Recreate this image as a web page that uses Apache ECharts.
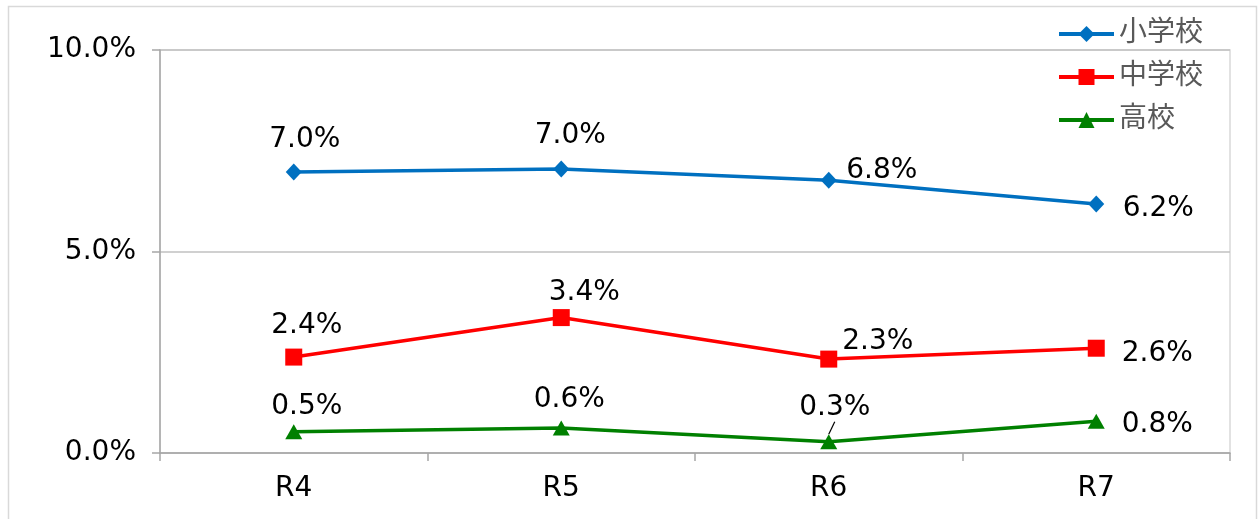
<!DOCTYPE html>
<html>
<head>
<meta charset="utf-8">
<script src="https://cdn.jsdelivr.net/npm/echarts@6/dist/echarts.min.js"></script>
<style>
  html, body { margin: 0; padding: 0; background: #fff; }
  #main { width: 1259px; height: 519px; }
</style>
</head>
<body>
<div id="main"></div>
<script>
// data (percent)
var categories = ['R4', 'R5', 'R6', 'R7'];
var seriesNames = ['小学校', '中学校', '高校'];
var elementary = [6.97, 7.05, 6.77, 6.18];
var juniorHigh = [2.38, 3.36, 2.33, 2.60];
var highSchool = [0.53, 0.62, 0.28, 0.79];
var yTicks = [0, 5, 10];

// label offsets from the marker centre (layout only)
var labelOffsets = [
    [[11, -32], [9, -33], [53, -9], [62, 5]],
    [[13, -31], [23, -25], [49, -17], [61, 5]],
    [[13, -25], [8, -28], [6, -34], [61, 4]]
];
var colors = ['#0070C0', '#FF0000', '#008000'];
var symbols = ['diamond', 'rect', 'triangle'];
var symbolSizes = [[16, 17], [17, 17], [17, 15]];

var FONT = "'DejaVu Sans', 'Noto Sans CJK JP', sans-serif";

var dom = document.getElementById('main');
var myChart = echarts.init(dom);

function makeSeries(idx, values) {
    return {
        name: seriesNames[idx],
        type: 'line',
        symbol: symbols[idx],
        symbolSize: symbolSizes[idx],
        showAllSymbol: true,
        lineStyle: { color: colors[idx], width: 3.5 },
        itemStyle: { color: colors[idx] },
        data: values.map(function (v, i) {
            var item = {
                value: v,
                label: { offset: labelOffsets[idx][i] }
            };
            if (idx === 2 && i === 2) {
                item.labelLine = { show: true, lineStyle: { color: '#000', width: 1.2 } };
            }
            return item;
        }),
        label: {
            show: true,
            position: 'inside',
            color: '#000',
            fontFamily: FONT,
            fontSize: 28,
            formatter: function (p) { return p.value.toFixed(1) + '%'; }
        },
        labelLine: { show: false },
        emphasis: { disabled: true },
        animation: false
    };
}

var option = {
    animation: false,
    color: colors,
    textStyle: { fontFamily: FONT },
    graphic: [{
        type: 'rect',
        shape: { x: 8.5, y: 6.5, width: 1248, height: 530 },
        style: { fill: 'none', stroke: '#d9d9d9', lineWidth: 1.5 },
        z: -10
    }],
    legend: {
        orient: 'vertical',
        left: 1057,
        top: 19,
        padding: 0,
        itemWidth: 55,
        itemHeight: 20,
        itemGap: 13,
        lineStyle: { width: 4 },
        textStyle: { fontFamily: FONT, fontSize: 28, color: '#595959', lineHeight: 30 },
        data: seriesNames
    },
    grid: {
        left: 160,
        right: 29,
        top: 50,
        bottom: 66,
        show: true,
        borderColor: '#d9d9d9',
        borderWidth: 1.5
    },
    xAxis: {
        type: 'category',
        data: categories,
        axisLine: { lineStyle: { color: '#a6a6a6', width: 1.5 } },
        axisTick: { show: true, length: 8, lineStyle: { color: '#a6a6a6', width: 1.5 } },
        axisLabel: { color: '#000', fontFamily: FONT, fontSize: 28, margin: 22 }
    },
    yAxis: {
        type: 'value',
        min: yTicks[0],
        max: yTicks[yTicks.length - 1],
        interval: yTicks[1] - yTicks[0],
        axisLine: { show: true, lineStyle: { color: '#a6a6a6', width: 1.5 } },
        axisTick: { show: true, length: 8, lineStyle: { color: '#a6a6a6', width: 1.5 } },
        splitLine: { lineStyle: { color: '#c0c0c0', width: 1.5 } },
        axisLabel: {
            color: '#000', fontFamily: FONT, fontSize: 28, margin: 24,
            formatter: function (v) { return v.toFixed(1) + '%'; }
        }
    },
    series: [
        makeSeries(0, elementary),
        makeSeries(1, juniorHigh),
        makeSeries(2, highSchool)
    ]
};

myChart.setOption(option);
</script>
</body>
</html>
